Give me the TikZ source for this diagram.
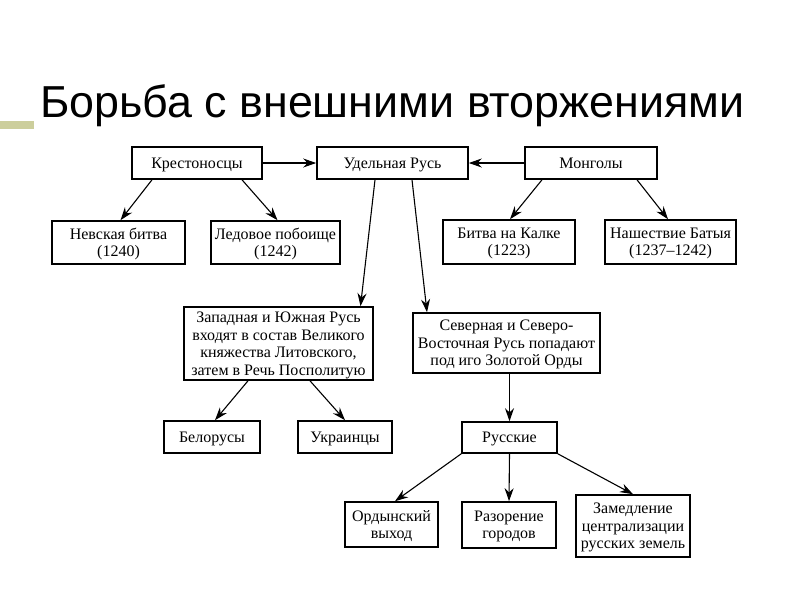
\documentclass[tikz,border=0pt]{standalone}
\usepackage{fontspec}
\setmainfont{Liberation Serif}
\newfontfamily\titlefont{Liberation Sans}
\usetikzlibrary{arrows.meta}
\definecolor{olivebar}{RGB}{204,206,156}
\tikzset{
  box/.style={draw=black, line width=1.6pt, align=center, inner sep=0pt,
    text depth=0pt, font=\fontsize{16}{17.5}\selectfont},
  arr/.style={-{Stealth[length=13pt,width=9pt]}, line width=1.1pt}
}
\begin{document}
\begin{tikzpicture}[x=1pt,y=-1pt]
\useasboundingbox[fill=white] (0,0) rectangle (800,600);
\fill[olivebar] (0,121) rectangle (34,129);
\node[anchor=base west, inner sep=0pt, font=\titlefont\fontsize{44.8}{48}\selectfont] (title) at (40,117) {Борьба с внешними вторжениями};
% top row
\node[box, minimum width=130pt, minimum height=32pt] (kresto) at (197,163) {Крестоносцы};
\node[box, minimum width=151pt, minimum height=32pt] (udel) at (392.5,163) {Удельная Русь};
\node[box, minimum width=132pt, minimum height=32pt] (mong) at (591,163) {Монголы};
% battles
\node[box, minimum width=133pt, minimum height=43pt] (nevsk) at (118.5,242.5) {Невская битва\\(1240)};
\node[box, minimum width=129pt, minimum height=43pt] (ledov) at (275.5,242.5) {Ледовое побоище\\(1242)};
\node[box, minimum width=132pt, minimum height=44pt] (kalka) at (509,242) {Битва на Калке\\(1223)};
\node[box, minimum width=131pt, minimum height=44pt] (batyi) at (670.5,242) {Нашествие Батыя\\(1237–1242)};
% parts of Rus
\node[box, minimum width=189pt, minimum height=73pt] (zapad) at (278.5,343.5) {Западная и Южная Русь\\входят в состав Великого\\княжества Литовского,\\затем в Речь Посполитую};
\node[box, minimum width=187pt, minimum height=60pt] (sever) at (506.5,343) {Северная и Северо-\\Восточная Русь попадают\\под иго Золотой Орды};
% peoples
\node[box, minimum width=96pt, minimum height=32pt] (belor) at (212,437) {Белорусы};
\node[box, minimum width=94pt, minimum height=32pt] (ukrain) at (345,437) {Украинцы};
\node[box, minimum width=95pt, minimum height=31pt] (russk) at (509.5,437.5) {Русские};
% results
\node[box, minimum width=93pt, minimum height=45pt] (ordyn) at (391.5,524.5) {Ордынский\\выход};
\node[box, minimum width=94pt, minimum height=46pt] (razor) at (509,525) {Разорение\\городов};
\node[box, minimum width=114pt, minimum height=62pt] (zamed) at (633,526) {Замедление\\централизации\\русских земель};

\draw[arr] (kresto.east) -- (udel.west);
\draw[arr] (mong.west) -- (udel.east);
\draw[arr] ([xshift=-45pt]kresto.south) -- ([xshift=2pt]nevsk.north);
\draw[arr] ([xshift=45pt]kresto.south) -- ([xshift=2pt]ledov.north);
\draw[arr] ([xshift=-49pt]mong.south) -- ([xshift=1pt]kalka.north);
\draw[arr] ([xshift=46pt]mong.south) -- ([xshift=-2.5pt]batyi.north);
\draw[arr] ([xshift=-17.5pt]udel.south) -- ([xshift=82pt]zapad.north);
\draw[arr] ([xshift=19.5pt]udel.south) -- ([xshift=-79.5pt]sever.north);
\draw[arr] ([xshift=-30.5pt]zapad.south) -- ([xshift=3pt]belor.north);
\draw[arr] ([xshift=31.5pt]zapad.south) -- (ukrain.north);
\draw[arr] (russk.north |- sever.south) -- (russk.north);
\draw[arr] (russk.south west) -- ([xshift=3.5pt]ordyn.north);
\draw[arr] (russk.south) -- (razor.north);
\draw[arr] (russk.south east) -- (zamed.north);
\end{tikzpicture}
\end{document}
